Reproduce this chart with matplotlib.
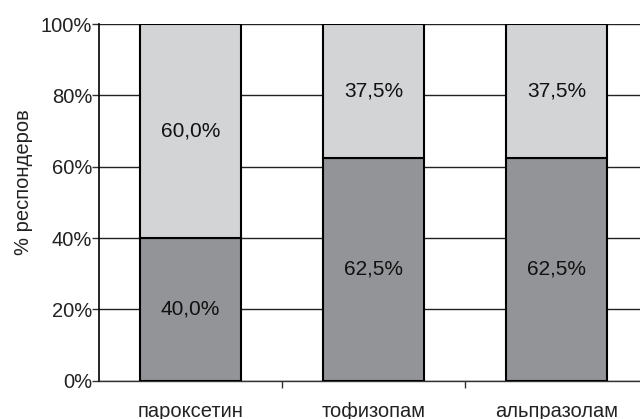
import matplotlib
matplotlib.use("Agg")
import matplotlib.pyplot as plt
import numpy as np

categories = ["пароксетин", "тофизопам", "альпразолам"]
bottom_vals = [40.0, 62.5, 62.5]
top_vals = [60.0, 37.5, 37.5]
yticks = [0, 20, 40, 60, 80, 100]

plt.rcParams['font.family'] = ['Liberation Sans', 'DejaVu Sans']

fig = plt.figure(figsize=(6.4, 4.19), dpi=100)
ax = fig.add_axes([99/640, 1-380.7/419, 549/640, 356.7/419])

x = np.arange(len(categories))
w = 0.557
ax.bar(x, bottom_vals, w, color="#939498", edgecolor="black", linewidth=1.5, zorder=3)
ax.bar(x, top_vals, w, bottom=bottom_vals, color="#d3d4d6", edgecolor="black", linewidth=1.5, zorder=3)

for i in range(len(categories)):
    ax.text(x[i], bottom_vals[i]/2, f"{bottom_vals[i]:.1f}%".replace(".", ","),
            ha="center", va="center", fontsize=15, color="#111111", zorder=4)
    ax.text(x[i], bottom_vals[i] + top_vals[i]/2, f"{top_vals[i]:.1f}%".replace(".", ","),
            ha="center", va="center", fontsize=15, color="#111111", zorder=4)

ax.set_xlim(-0.5, len(categories) - 0.5)
ax.set_ylim(0, 100)
ax.set_yticks(yticks)
ax.set_yticklabels([f"{v}%" for v in yticks], fontsize=14.5, color="#222222")
ax.set_xticks(np.arange(len(categories)) + 0.5)
ax.set_xticklabels([])
ax.set_xticks(x, minor=True)
ax.set_xticklabels(categories, minor=True, fontsize=14.5, color="#222222")
ax.tick_params(axis="x", which="minor", length=0, pad=15)
ax.tick_params(axis="x", which="major", length=5, width=1, direction="out", color="#333333")
ax.tick_params(axis="y", length=5, width=1, direction="out", color="#333333", pad=0)

ax.yaxis.grid(True, color="#222222", linewidth=1)
ax.set_axisbelow(True)
for s in ["top", "right"]:
    ax.spines[s].set_visible(False)
ax.spines["left"].set_color("black")
ax.spines["left"].set_linewidth(1.2)
ax.spines["bottom"].set_color("#333333")
ax.spines["bottom"].set_linewidth(1)

ax.set_ylabel("% респондеров", fontsize=14.5, color="#222222")
ax.yaxis.set_label_coords(-(99-33)/549, (380.7-182)/356.7)

fig.savefig("out.png", dpi=100)
